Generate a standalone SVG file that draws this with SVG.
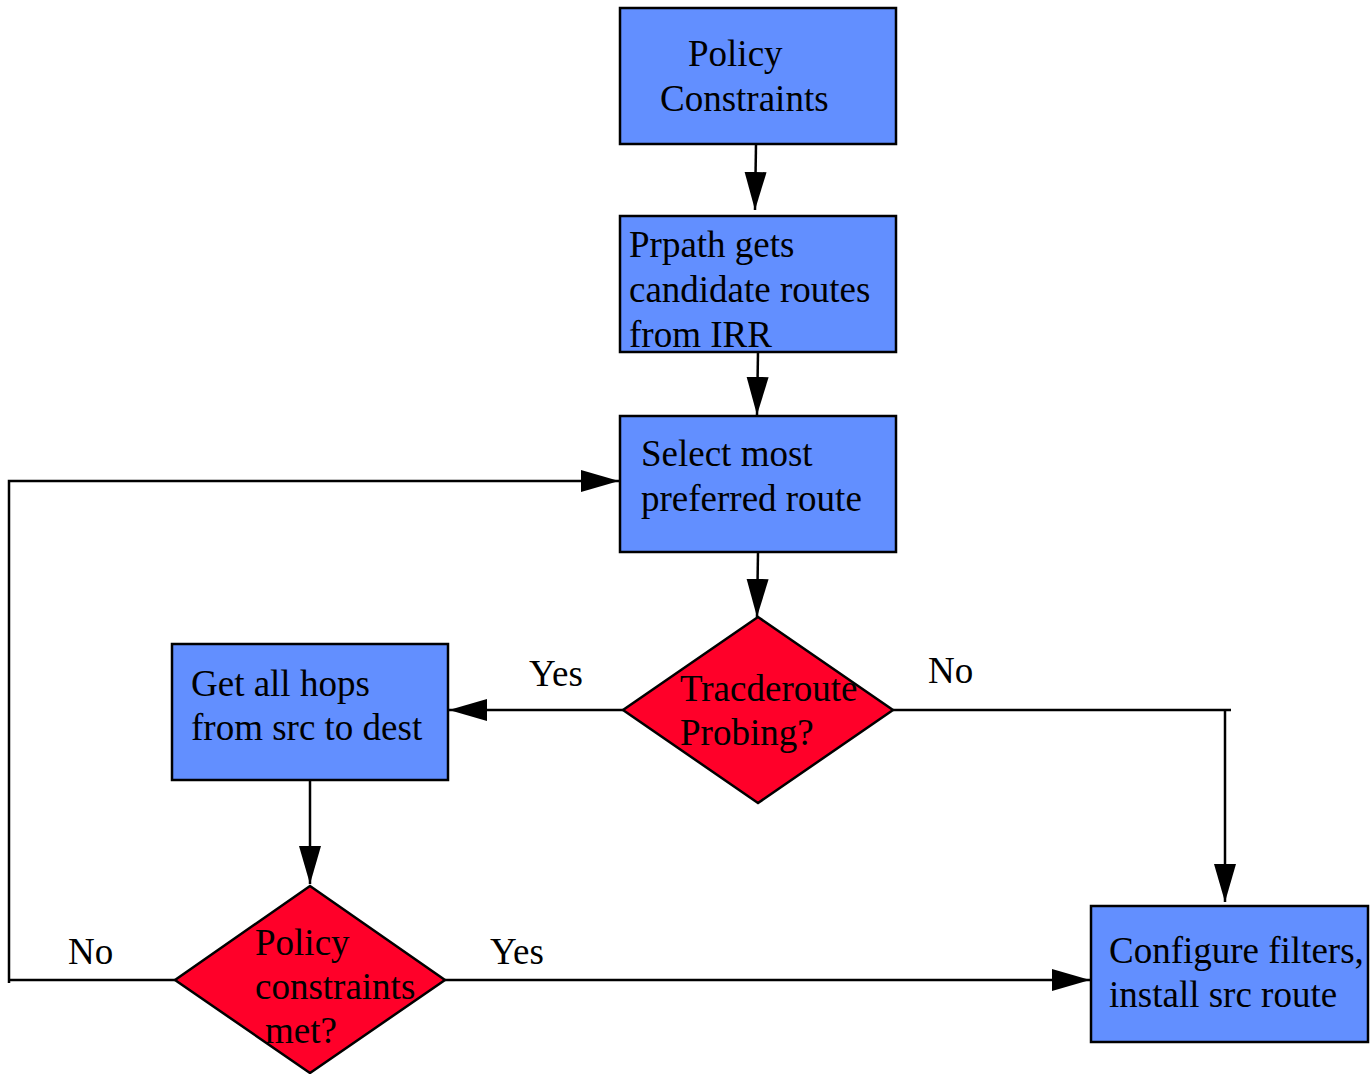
<svg xmlns="http://www.w3.org/2000/svg" width="1370" height="1074" viewBox="0 0 1370 1074">
<defs>
<style>
.box{fill:#628fff;stroke:#000;stroke-width:2.5}
.dia{fill:#ff0029;stroke:#000;stroke-width:2.5}
.t{font-family:"Liberation Serif","Times New Roman",serif;font-size:37px;fill:#000}
.c{fill:none;stroke:#000;stroke-width:2.5}
</style>
<marker id="ah" markerUnits="userSpaceOnUse" markerWidth="40" markerHeight="24" refX="38" refY="11" orient="auto">
<path d="M0,0 L38,11 L0,22 z" fill="#000"/>
</marker>
</defs>
<rect width="1370" height="1074" fill="#fff"/>
<g id="connectors">
<path class="c" d="M756,144 L755,210" marker-end="url(#ah)"/>
<path class="c" d="M758,352 L757,415" marker-end="url(#ah)"/>
<path class="c" d="M758,552 L757,617" marker-end="url(#ah)"/>
<path class="c" d="M623,710 L449,710" marker-end="url(#ah)"/>
<path class="c" d="M893,710 L1231,710"/>
<path class="c" d="M1225,710 L1225,902" marker-end="url(#ah)"/>
<path class="c" d="M310,780 L310,884" marker-end="url(#ah)"/>
<path class="c" d="M445,980 L1090,980" marker-end="url(#ah)"/>
<path class="c" d="M175,980 L9,980"/>
<path class="c" d="M9,983 L9,481 L619,481" marker-end="url(#ah)"/>
<text class="t" x="529" y="686">Yes</text>
<text class="t" x="928" y="683">No</text>
<text class="t" x="68" y="964">No</text>
<text class="t" x="490" y="964">Yes</text>
</g>
<g id="policy-constraints">
<rect class="box" x="620" y="8" width="276" height="136"/>
<text class="t" x="688" y="66">Policy</text>
<text class="t" x="660" y="111">Constraints</text>
</g>
<g id="prpath">
<rect class="box" x="620" y="216" width="276" height="136"/>
<text class="t" x="629" y="257">Prpath gets</text>
<text class="t" x="629" y="302">candidate routes</text>
<text class="t" x="629" y="347">from IRR</text>
</g>
<g id="select-route">
<rect class="box" x="620" y="416" width="276" height="136"/>
<text class="t" x="641" y="466">Select most</text>
<text class="t" x="641" y="511">preferred route</text>
</g>
<g id="traceroute">
<polygon class="dia" points="758,617 893,710 758,803 623,710"/>
<text class="t" x="680" y="701">Tracderoute</text>
<text class="t" x="680" y="745">Probing?</text>
</g>
<g id="get-hops">
<rect class="box" x="172" y="644" width="276" height="136"/>
<text class="t" x="191" y="696">Get all hops</text>
<text class="t" x="191" y="740">from src to dest</text>
</g>
<g id="policy-met">
<polygon class="dia" points="310,886 445,980 310,1073 175,980"/>
<text class="t" x="255" y="955">Policy</text>
<text class="t" x="255" y="999">constraints</text>
<text class="t" x="265" y="1043">met?</text>
</g>
<g id="configure">
<rect class="box" x="1091" y="906" width="277" height="136"/>
<text class="t" x="1109" y="963">Configure filters,</text>
<text class="t" x="1109" y="1007">install src route</text>
</g>
</svg>
